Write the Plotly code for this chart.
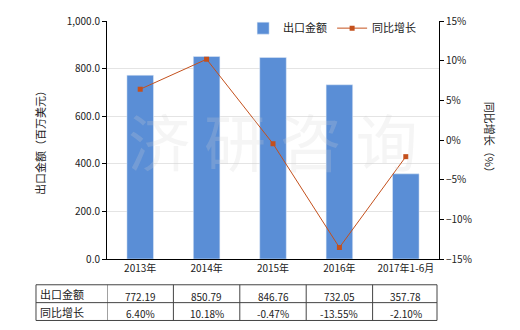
import plotly.graph_objects as go

categories = ["2013年", "2014年", "2015年", "2016年", "2017年1-6月"]
export_values = [772.19, 850.79, 846.76, 732.05, 357.78]
growth_pct = [6.40, 10.18, -0.47, -13.55, -2.10]
export_labels = ["772.19", "850.79", "846.76", "732.05", "357.78"]
growth_labels = ["6.40%", "10.18%", "-0.47%", "-13.55%", "-2.10%"]
row_names = ["出口金额", "同比增长"]

FONT = "Noto Sans CJK SC, DejaVu Sans, sans-serif"
bar_color = "#5A8ED6"
line_color = "#C4501C"

fig = go.Figure()
fig.add_trace(go.Bar(x=categories, y=export_values, name="出口金额",
                     marker_color=bar_color, width=0.4, yaxis="y"))
fig.add_trace(go.Scatter(x=categories, y=growth_pct, name="同比增长", yaxis="y2",
                         mode="lines+markers",
                         line=dict(color=line_color, width=1),
                         marker=dict(symbol="square", size=5, color=line_color)))

fig.update_layout(
    width=520, height=330,
    margin=dict(l=107, r=81, t=19, b=71),
    paper_bgcolor="white", plot_bgcolor="white",
    font=dict(family=FONT, size=10, color="#222"),
    showlegend=True,
    legend=dict(orientation="h", x=0.41, y=0.97, xanchor="left", yanchor="middle",
                bgcolor="rgba(0,0,0,0)", font=dict(size=11), itemwidth=30),
    xaxis=dict(type="category", showline=True, linecolor="#000", linewidth=1,
               ticks="", showgrid=False, tickfont=dict(size=10),
               range=[-0.5, 4.5]),
    yaxis=dict(range=[0, 1000], dtick=200, tickformat=",.1f", showline=True,
               linecolor="#000", linewidth=1, ticks="outside", ticklen=4,
               tickcolor="#000", showgrid=True, gridcolor="#E4E4E4",
               title=dict(text="出口金额（百万美元）", font=dict(size=11), standoff=18),
               zeroline=False),
    yaxis2=dict(range=[-15, 15], dtick=5, ticksuffix="%", overlaying="y", side="right",
                showline=True, linecolor="#000", linewidth=1, ticks="outside",
                ticklen=4, tickcolor="#000", showgrid=False, zeroline=False),
)

# right axis title, reading top to bottom
fig.add_annotation(text="同比增长（%）", xref="paper", yref="paper", x=1.154, y=0.5,
                   textangle=90, showarrow=False, font=dict(size=11),
                   xanchor="center", yanchor="middle")

# watermark
fig.add_annotation(text="济 研 咨 询", x=0.5, y=0.5, xref="paper", yref="paper",
                   showarrow=False, font=dict(size=62, color="rgba(210,210,210,0.22)"))

# data table under the axis
row_y = [-0.1083, -0.1833, -0.2583]
left_x = -0.2139
shapes = []
for yv in row_y:
    shapes.append(dict(type="line", xref="paper", yref="paper", x0=left_x, x1=0.994,
                       y0=yv, y1=yv, line=dict(color="#444", width=1)))
shapes.append(dict(type="line", xref="paper", yref="paper", x0=left_x, x1=left_x,
                   y0=row_y[0], y1=row_y[-1], line=dict(color="#444", width=1)))
for i in range(len(categories) + 1):
    xv = i - 0.5 if i < len(categories) else 4.47
    shapes.append(dict(type="line", xref="x", yref="paper", x0=xv, x1=xv,
                       y0=row_y[0], y1=row_y[-1], line=dict(color="#444", width=1)))
fig.update_layout(shapes=shapes)

for r, name in enumerate(row_names):
    yc = (row_y[r] + row_y[r + 1]) / 2
    fig.add_annotation(text=name, xref="paper", yref="paper", x=left_x + 0.005, y=yc,
                       xanchor="left", yanchor="middle", showarrow=False,
                       font=dict(size=11))
    labels = export_labels if r == 0 else growth_labels
    for c, lab in zip(categories, labels):
        fig.add_annotation(text=lab, xref="x", yref="paper", x=c, y=yc - 0.01,
                           xanchor="center", yanchor="middle", showarrow=False,
                           font=dict(size=10))

fig.write_html("out.html")
